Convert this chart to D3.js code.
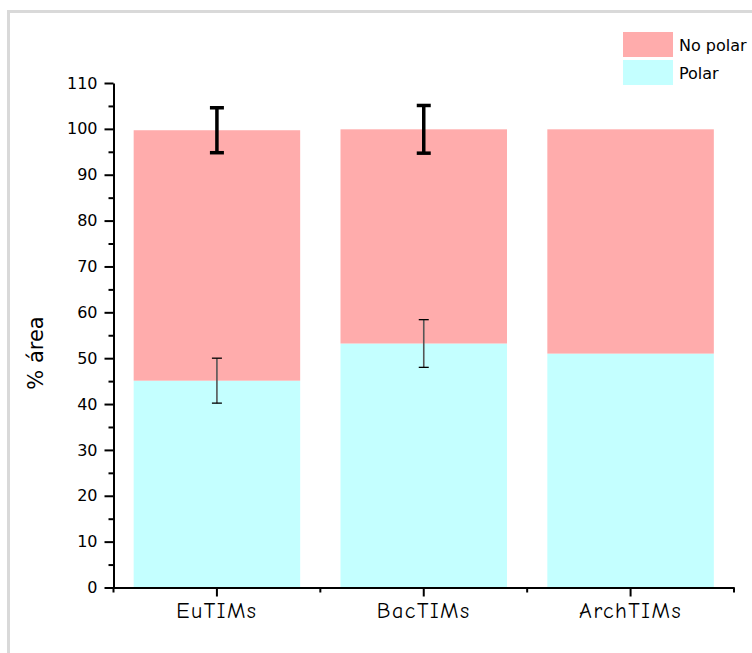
<!DOCTYPE html>
<html>
<head>
<meta charset="utf-8">
<script src="https://cdn.jsdelivr.net/npm/d3@7/dist/d3.min.js"></script>
<style>
  html, body { margin: 0; padding: 0; background: #fff; }
  svg { display: block; }
</style>
</head>
<body>
<svg id="chart" width="752" height="653"></svg>
<script>
// Share of surface area (%) by TIM group, split into polar / non-polar
const categories = ["EuTIMs", "BacTIMs", "ArchTIMs"];
const polar      = [45.1, 53.2, 51.0];
const noPolar    = [54.6, 46.7, 48.9];
const polarErr   = [4.9, 5.2, null];
const noPolarErr = [4.9, 5.2, null];
const yTicks      = [0, 10, 20, 30, 40, 50, 60, 70, 80, 90, 100, 110];
const yMinorTicks = [5, 15, 25, 35, 45, 55, 65, 75, 85, 95, 105];
const seriesNames = ["No polar", "Polar"];
const colors = { polar: "#c4ffff", noPolar: "#ffacac" };

const svg = d3.select("#chart");
const W = 752, H = 653;
const plot = { left: 113.5, right: 734, top: 83, bottom: 587.5 };

// frame around the graph page
svg.append("rect")
  .attr("x", 8.5).attr("y", 11.5)
  .attr("width", W + 20).attr("height", H + 20)
  .attr("fill", "none").attr("stroke", "#d9d9d9").attr("stroke-width", 3);

const x = d3.scaleBand().domain(categories).range([plot.left, plot.right]).paddingInner(0).paddingOuter(0);
const y = d3.scaleLinear().domain([0, 110]).range([plot.bottom, plot.top]);

const barW = x.bandwidth() * 0.805;
const barOff = (x.bandwidth() - barW) / 2;

const rows = categories.map((c, i) => ({
  cat: c, polar: polar[i], noPolar: noPolar[i], pErr: polarErr[i], nErr: noPolarErr[i]
}));
const stack = d3.stack().keys(["polar", "noPolar"])(rows);

const g = svg.append("g");
stack.forEach(layer => {
  g.append("g").selectAll("rect").data(layer).join("rect")
    .attr("x", d => x(d.data.cat) + barOff)
    .attr("width", barW)
    .attr("y", d => y(d[1]))
    .attr("height", d => y(d[0]) - y(d[1]))
    .attr("fill", colors[layer.key]);
});

// error bars: thin on the polar segment, bold on the stack top
function errorBars(vals, errs, opts) {
  const eg = svg.append("g");
  vals.forEach((v, i) => {
    if (errs[i] == null) return;
    const cx = x(categories[i]) + x.bandwidth() / 2;
    const y1 = y(v + errs[i]), y0 = y(v - errs[i]);
    eg.append("line").attr("x1", cx).attr("x2", cx).attr("y1", y1).attr("y2", y0)
      .attr("stroke", opts.stem).attr("stroke-width", opts.sw);
    [y1, y0].forEach(yy => eg.append("line")
      .attr("x1", cx - opts.cap / 2).attr("x2", cx + opts.cap / 2)
      .attr("y1", yy).attr("y2", yy)
      .attr("stroke", "#000").attr("stroke-width", opts.capW));
  });
}
errorBars(polar, polarErr, { stem: "#555", sw: 1.6, cap: 10, capW: 1.3 });
errorBars(polar.map((p, i) => p + noPolar[i]), noPolarErr, { stem: "#000", sw: 3.5, cap: 14, capW: 3.5 });

// y axis with major + minor ticks
const yAxis = svg.append("g").attr("transform", `translate(${plot.left},0)`)
  .call(d3.axisLeft(y).tickValues(yTicks).tickSize(9).tickPadding(7).tickSizeOuter(0));
yAxis.select(".domain").attr("stroke-width", 2);
yAxis.selectAll(".tick line").attr("stroke-width", 2);
yAxis.selectAll("text").attr("font-family", "'DejaVu Sans', Verdana, sans-serif").attr("font-size", 16).attr("fill", "#000");

const yMinor = svg.append("g").attr("transform", `translate(${plot.left},0)`)
  .call(d3.axisLeft(y).tickValues(yMinorTicks).tickSize(5).tickFormat(""));
yMinor.select(".domain").remove();
yMinor.selectAll(".tick line").attr("stroke-width", 2);

// x axis
const xAxis = svg.append("g").attr("transform", `translate(0,${plot.bottom})`)
  .call(d3.axisBottom(x).tickSize(9).tickPadding(6).tickSizeOuter(0));
xAxis.select(".domain").attr("stroke-width", 2);
xAxis.selectAll(".tick line").attr("stroke-width", 2);
xAxis.selectAll("text")
  .attr("font-family", "'Comic Sans MS', 'Comic Neue', 'DejaVu Sans', sans-serif")
  .attr("font-size", 22).attr("letter-spacing", 1.5).attr("fill", "#000");

// group boundary ticks
const bounds = categories.map(c => x(c)).concat([x.range()[1]]);
svg.append("g").selectAll("line").data(bounds).join("line")
  .attr("x1", d => d).attr("x2", d => d)
  .attr("y1", plot.bottom).attr("y2", plot.bottom + 5)
  .attr("stroke", "#000").attr("stroke-width", 2);

// y axis title
svg.append("text")
  .attr("transform", `translate(43,353) rotate(-90)`)
  .attr("text-anchor", "middle")
  .attr("font-family", "'Comic Sans MS', 'DejaVu Sans', sans-serif")
  .attr("font-size", 21).attr("fill", "#000")
  .text("% área");

// legend
const legend = svg.append("g");
const legendColors = [colors.noPolar, colors.polar];
seriesNames.forEach((name, i) => {
  legend.append("rect").attr("x", 623).attr("y", 32 + i * 28).attr("width", 50).attr("height", 25)
    .attr("fill", legendColors[i]);
  legend.append("text").attr("x", 679).attr("y", 51 + i * 28)
    .attr("font-family", "'Comic Sans MS', 'DejaVu Sans', sans-serif")
    .attr("font-size", 16).attr("fill", "#000").text(name);
});
</script>
</body>
</html>
